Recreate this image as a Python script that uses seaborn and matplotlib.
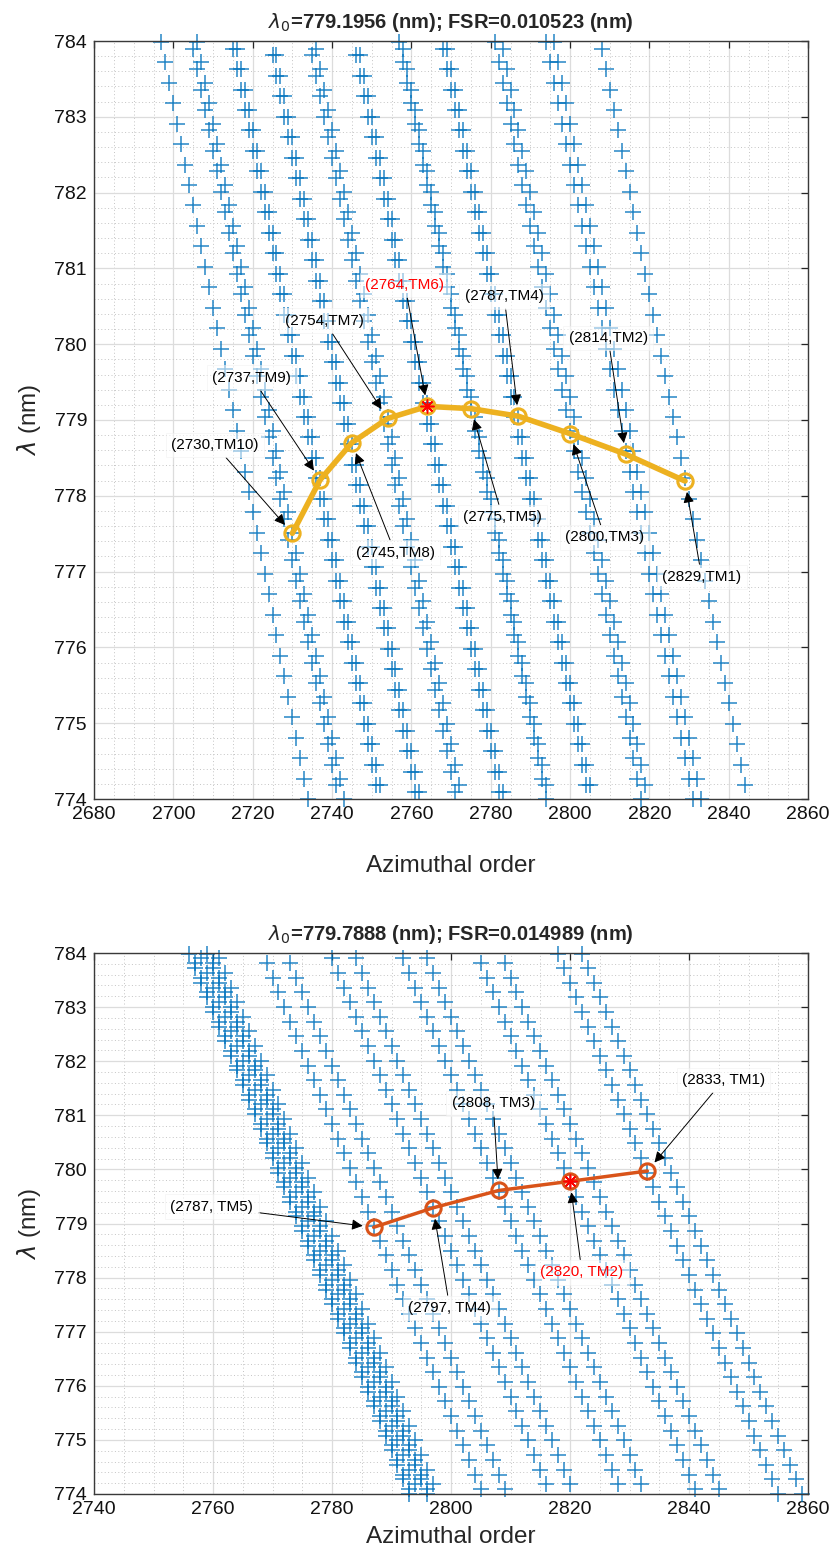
import matplotlib
matplotlib.use("Agg")
import matplotlib.pyplot as plt
from matplotlib.ticker import MultipleLocator
import pandas as pd
import seaborn as sns

# ---------------- data ----------------
# resonance wavelength ladders (nm), one entry per azimuthal order, for three resonance phases
ladder_a = [783.99, 783.72, 783.45, 783.18, 782.91, 782.64, 782.37, 782.10, 781.83, 781.56,
            781.29, 781.02, 780.75, 780.48, 780.21, 779.94, 779.67, 779.40, 779.13, 778.86,
            778.59, 778.32, 778.05, 777.78, 777.51, 777.24, 776.97, 776.70, 776.43, 776.16,
            775.89, 775.62, 775.35, 775.08, 774.81, 774.54, 774.27, 774.00]
ladder_b = [783.90, 783.63, 783.36, 783.09, 782.82, 782.55, 782.28, 782.01, 781.74, 781.47,
            781.20, 780.93, 780.66, 780.39, 780.12, 779.85, 779.58, 779.31, 779.04, 778.77,
            778.50, 778.23, 777.96, 777.69, 777.42, 777.15, 776.88, 776.61, 776.34, 776.07,
            775.80, 775.53, 775.26, 774.99, 774.72, 774.45, 774.18]
ladder_c = [783.81, 783.54, 783.27, 783.00, 782.73, 782.46, 782.19, 781.92, 781.65, 781.38,
            781.11, 780.84, 780.57, 780.30, 780.03, 779.76, 779.49, 779.22, 778.95, 778.68,
            778.41, 778.14, 777.87, 777.60, 777.33, 777.06, 776.79, 776.52, 776.25, 775.98,
            775.71, 775.44, 775.17, 774.90, 774.63, 774.36, 774.09]
ladders = {"A": ladder_a, "B": ladder_b, "C": ladder_c}

# mode families: first azimuthal order (at the top of the window) and its ladder
top_family_start = [2697, 2706, 2705, 2716, 2715, 2726, 2725, 2736, 2735, 2747,
                    2746, 2757, 2758, 2769, 2768, 2781, 2783, 2794, 2796, 2808]
top_family_ladder = ["A", "A", "B", "B", "B", "C", "C", "B", "C", "C",
                     "C", "A", "B", "B", "B", "A", "B", "A", "A", "B"]
bot_family_start = [2756, 2757, 2758, 2759, 2760, 2761, 2769, 2773,
                    2780, 2784, 2792, 2796, 2805, 2809, 2818, 2822]
bot_family_ladder = ["A", "C", "B", "A", "C", "B", "C", "C",
                     "B", "B", "B", "B", "C", "C", "A", "A"]

# highlighted TM modes
top_tm_order = [2730, 2737, 2745, 2754, 2764, 2775, 2787, 2800, 2814, 2829]
top_tm_wl = [777.505, 778.21, 778.70, 779.02, 779.18, 779.15, 779.05, 778.82, 778.55, 778.195]
top_tm_label = ["(2730,TM10)", "(2737,TM9)", "(2745,TM8)", "(2754,TM7)", "(2764,TM6)",
                "(2775,TM5)", "(2787,TM4)", "(2800,TM3)", "(2814,TM2)", "(2829,TM1)"]
top_highlight = 4

bot_tm_order = [2787, 2797, 2808, 2820, 2833]
bot_tm_wl = [778.93, 779.29, 779.61, 779.78, 779.97]
bot_tm_label = ["(2787, TM5)", "(2797, TM4)", "(2808, TM3)", "(2820, TM2)", "(2833, TM1)"]
bot_highlight = 3

top_title = r"$\lambda_0$=779.1956 (nm); FSR=0.010523 (nm)"
bot_title = r"$\lambda_0$=779.7888 (nm); FSR=0.014989 (nm)"

# ---------------- layout (label positions, data coords) ----------------
top_label_xy = [(2710.5, 778.67), (2719.8, 779.56), (2755.9, 777.25), (2738.0, 780.31),
                (2758.4, 780.78), (2783.0, 777.72), (2783.4, 780.63), (2808.8, 777.45),
                (2809.6, 780.08), (2833.2, 776.93)]
bot_label_xy = [(2759.8, 779.31), (2799.8, 777.44), (2807.1, 781.22),
                (2822.0, 778.10), (2845.8, 781.65)]


def families_frame(starts, ladder_ids):
    rows = []
    for fam, (m0, lid) in enumerate(zip(starts, ladder_ids)):
        for i, wl in enumerate(ladders[lid]):
            rows.append({"order": m0 + i, "wl": wl, "family": fam})
    return pd.DataFrame(rows)


sns.set_theme(style="white")
plt.rcParams["font.family"] = ["Liberation Sans", "DejaVu Sans"]
plt.rcParams["mathtext.fontset"] = "dejavusans"

fig = plt.figure(figsize=(8.33, 15.6), dpi=100)
ax1 = fig.add_axes([94 / 833, 1 - 799 / 1560, 714 / 833, 758 / 1560])
ax2 = fig.add_axes([94 / 833, 1 - 1494 / 1560, 714 / 833, 541 / 1560])

BLUE = "#0072BD"


def style(ax, xlo, xhi, xpad):
    ax.set_xlim(xlo, xhi)
    ax.set_ylim(774, 784)
    ax.xaxis.set_major_locator(MultipleLocator(20))
    ax.xaxis.set_minor_locator(MultipleLocator(5))
    ax.yaxis.set_major_locator(MultipleLocator(1))
    ax.yaxis.set_minor_locator(MultipleLocator(0.2))
    ax.grid(which="major", color="#dcdcdc", lw=0.9, ls="-")
    ax.grid(which="minor", color="#c4c4c4", lw=0.7, ls=(0, (1, 2.5)))
    ax.set_axisbelow(True)
    ax.tick_params(which="major", direction="in", length=5, width=0.9, top=True, right=True,
                   labelsize=14, color="#262626", labelcolor="#111111", pad=5)
    ax.tick_params(which="minor", length=0)
    for sp in ax.spines.values():
        sp.set_color("#3a3a3a")
        sp.set_linewidth(1.0)
    ax.set_xlabel("Azimuthal order", fontsize=17.5, labelpad=xpad)
    ax.set_ylabel(r"$\lambda$ (nm)", fontsize=17.5, labelpad=8)


def draw(ax, starts, lids, tm_x, tm_y, labels, label_xy, hl, line_color, lw, ms, title):
    df = families_frame(starts, lids)
    sns.scatterplot(data=df, x="order", y="wl", marker="+", s=140, color=BLUE,
                    linewidth=1.1, alpha=0.85, ax=ax, legend=False, clip_on=False, zorder=2)
    sns.lineplot(x=tm_x, y=tm_y, ax=ax, color=line_color, linewidth=lw, marker="o",
                 markersize=ms, markerfacecolor="none", markeredgecolor=line_color,
                 markeredgewidth=2.2, sort=False, estimator=None, legend=False, zorder=3)
    ax.plot([tm_x[hl]], [tm_y[hl]], ls="none", marker=(8, 2, 0), ms=10,
            mec="red", mew=1.1, zorder=4)
    for i, (lab, (tx, ty)) in enumerate(zip(labels, label_xy)):
        ax.annotate(lab, xy=(tm_x[i], tm_y[i]), xytext=(tx, ty), textcoords="data",
                    ha="center", va="center", fontsize=11,
                    color="red" if i == hl else "black",
                    bbox=dict(boxstyle="square,pad=0.35", fc="white", ec="#eeeeee",
                              lw=0.6, alpha=0.55),
                    arrowprops=dict(arrowstyle="-|>", color="black", lw=0.7,
                                    mutation_scale=16, shrinkA=0, shrinkB=8),
                    zorder=5)
    ax.set_title(title, fontsize=14.5, fontweight="bold", pad=9)


style(ax1, 2680, 2860, 23)
draw(ax1, top_family_start, top_family_ladder, top_tm_order, top_tm_wl, top_tm_label,
     top_label_xy, top_highlight, "#EDB120", 4.0, 11, top_title)
style(ax2, 2740, 2860, 6)
draw(ax2, bot_family_start, bot_family_ladder, bot_tm_order, bot_tm_wl, bot_tm_label,
     bot_label_xy, bot_highlight, "#D95319", 2.5, 11, bot_title)

fig.savefig("out.png", dpi=100)
